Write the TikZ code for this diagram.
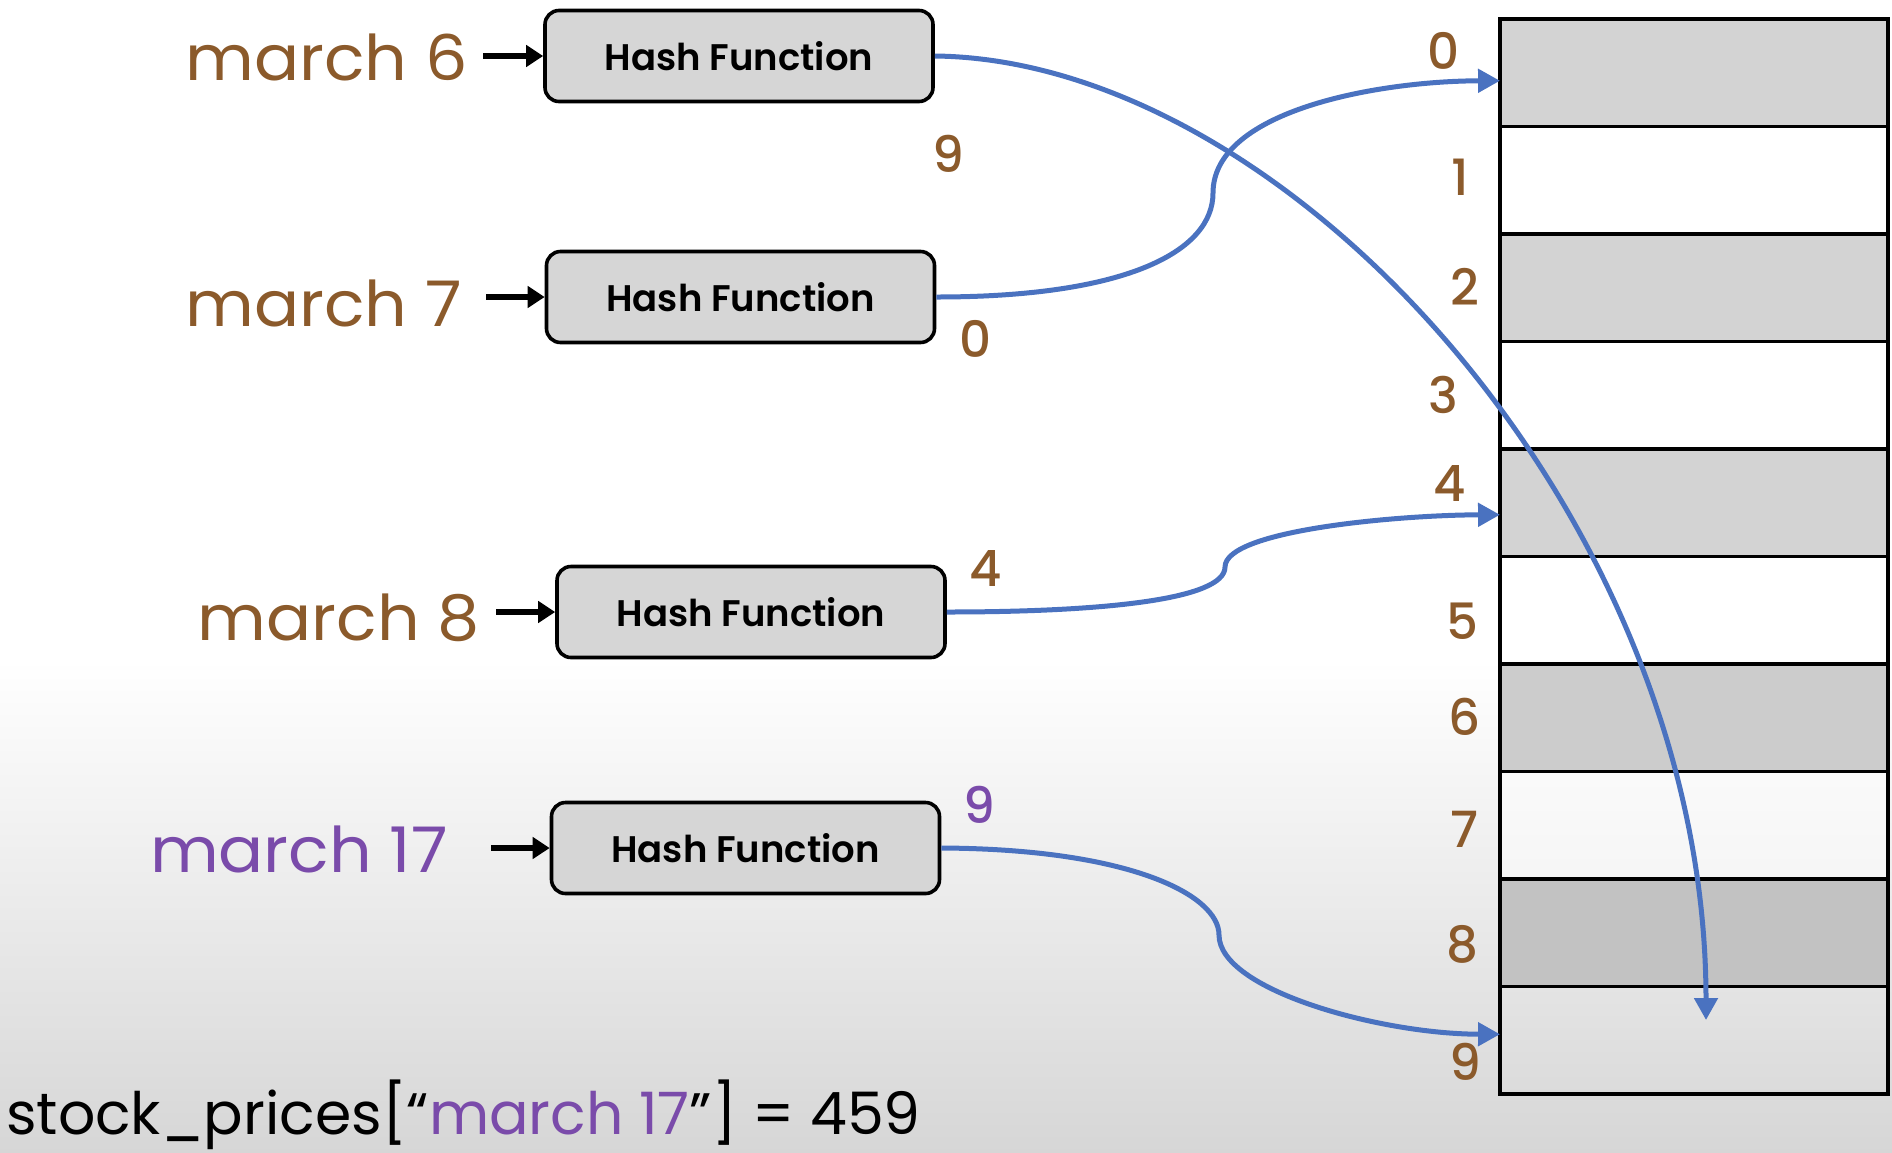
\documentclass[tikz,border=0pt]{standalone}
\usepackage{fontspec}
\setmainfont{Poppins}
\newfontfamily\hashfont{Poppins}[UprightFont=* SemiBold]
\newfontfamily\digitfont{Poppins}[UprightFont=* Medium]
\newfontfamily\keyfont{Poppins}[FakeStretch=1.06]
\usetikzlibrary{arrows.meta,calc}
\definecolor{keybrown}{HTML}{8B5A2B}
\definecolor{keypurple}{HTML}{7A4BAA}
\definecolor{linkblue}{HTML}{4A72C0}
\definecolor{boxgray}{HTML}{D6D6D6}
\definecolor{cellgray}{HTML}{D3D3D3}
\tikzset{
  hashbox/.style={draw=black, line width=3.6pt, fill=boxgray, rounded corners=14pt,
    minimum width=388pt, minimum height=91pt, inner sep=0pt,
    font=\hashfont\fontsize{37}{37}\selectfont},
  keylabel/.style={anchor=base east, inner sep=0pt, font=\keyfont\fontsize{63}{63}\selectfont},
  hashout/.style={inner sep=0pt, font=\digitfont\fontsize{50}{50}\selectfont},
  idx/.style={inner sep=0pt, text=keybrown, font=\digitfont\fontsize{50}{50}\selectfont},
  cell/.style={draw=black, line width=3.2pt, minimum width=388pt, minimum height=107.5pt,
    inner sep=0pt, outer sep=0pt},
  feed/.style={draw=black, line width=6pt, -{Triangle[length=17pt,width=21pt]}},
  link/.style={draw=linkblue, line width=5pt, -{Triangle[length=22pt,width=23pt]}}
}
\begin{document}
\begin{tikzpicture}[x=1pt,y=-1pt]
\useasboundingbox (0,0) rectangle (1892,1152);
% page background, fading to grey at the bottom
\fill[white] (0,0) rectangle (1892,660);
\shade[top color=white, bottom color=black!16] (0,660) rectangle (1892,1152);

% the bucket array
\node[cell, fill=cellgray]  (r0) at (1694, 72.75) {};
\node[cell]                 (r1) at (1694,180.25) {};
\node[cell, fill=cellgray]  (r2) at (1694,287.75) {};
\node[cell]                 (r3) at (1694,395.25) {};
\node[cell, fill=cellgray]  (r4) at (1694,502.75) {};
\node[cell]                 (r5) at (1694,610.25) {};
\node[cell, fill=black!20]  (r6) at (1694,717.75) {};
\node[cell, fill=white, fill opacity=0.5, draw opacity=1] (r7) at (1694,825.25) {};
\node[cell, fill=black!24]  (r8) at (1694,932.75) {};
\node[cell]                 (r9) at (1694,1040.25) {};

% bucket indices
\node[idx] (i0) at (1444,51)  {0};
\node[idx] (i1) at (1460,177) {1};
\node[idx] (i2) at (1465,287) {2};
\node[idx] (i3) at (1443,395) {3};
\node[idx] (i4) at (1450,483) {4};
\node[idx] (i5) at (1462,621) {5};
\node[idx] (i6) at (1465,717) {6};
\node[idx] (i7) at (1464,829) {7};
\node[idx] (i8) at (1462,944) {8};
\node[idx] (i9) at (1465,1062) {9};

% hash function boxes
\node[hashbox] (h1) at (739,56)    {Hash Function};
\node[hashbox] (h2) at (740.5,297) {Hash Function};
\node[hashbox] (h3) at (751,612)   {Hash Function};
\node[hashbox] (h4) at (745.5,848) {Hash Function};

% keys
\node[keylabel, text=keybrown]  (m1) at (468,80)  {march 6};
\node[keylabel, text=keybrown]  (m2) at (462,326) {march 7};
\node[keylabel, text=keybrown]  (m3) at (480,640) {march 8};
\node[keylabel, text=keypurple] (m4) at (448,872) {march 17};

\draw[feed] ($(h1.west -| m1.east)+(15,0)$) -- (h1.west);
\draw[feed] ($(h2.west -| m2.east)+(24,0)$) -- (h2.west);
\draw[feed] ($(h3.west -| m3.east)+(16,0)$) -- (h3.west);
\draw[feed] ($(h4.west -| m4.east)+(43,0)$) -- (h4.west);

% hash results
\node[hashout, text=keybrown]  (o1) at (948,154) {9};
\node[hashout, text=keybrown]  (o2) at (976,339) {0};
\node[hashout, text=keybrown]  (o3) at (986,568) {4};
\node[hashout, text=keypurple] (o4) at (979,805) {9};

% links from hash results to buckets
\coordinate (t9) at (1706,1020);
\draw[link] (h1.east) .. controls (1290,60) and (1706,520) .. (t9);
\draw[link] (h2.east) .. controls (1130,297) and (1213,250) .. (1213,193)
  .. controls (1213,110) and (1380,81) .. ([yshift=-8pt]r0.west);
\draw[link] (h3.east) .. controls (1100,612) and (1225,600) .. (1225,567)
  .. controls (1225,530) and (1400,515) .. ([yshift=-12pt]r4.west);
\draw[link] (h4.east) .. controls (1130,849) and (1219,895) .. (1219,935)
  .. controls (1219,990) and (1380,1034) .. ([yshift=6pt]r9.west);

% lookup expression
\node[anchor=base west, inner sep=0pt, font=\fontsize{58.5}{58.5}\selectfont] (q) at (6,1134)
  {stock\_prices[“\textcolor{keypurple}{march 17}”] = 459};
\end{tikzpicture}
\end{document}
